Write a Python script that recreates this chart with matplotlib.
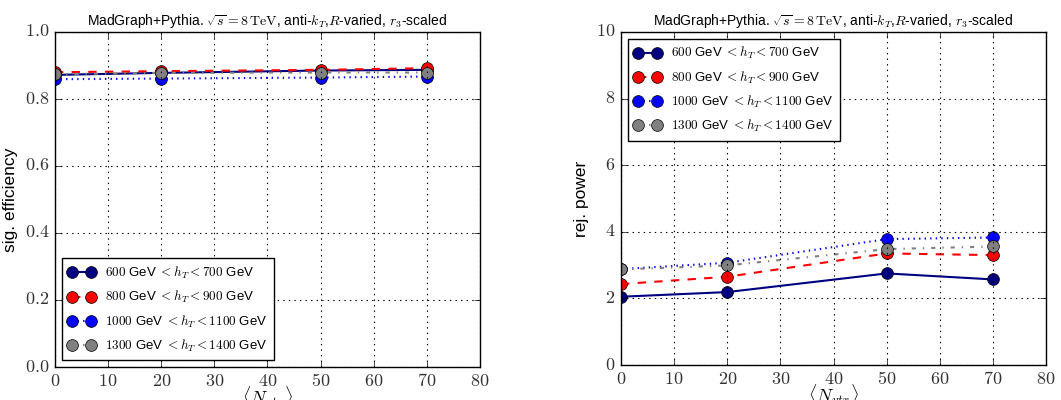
import matplotlib
matplotlib.use("Agg")
import matplotlib.pyplot as plt
from matplotlib.ticker import FuncFormatter, MultipleLocator

plt.style.use("classic")
plt.rcParams["mathtext.fontset"] = "cm"
plt.rcParams["font.family"] = ["Liberation Sans", "DejaVu Sans"]

n_vtx = [0, 20, 50, 70]
labels = [
    r"$600$ GeV $< h_T < 700$ GeV",
    r"$800$ GeV $< h_T < 900$ GeV",
    r"$1000$ GeV $< h_T < 1100$ GeV",
    r"$1300$ GeV $< h_T < 1400$ GeV",
]
colors = ["navy", "red", "blue", "gray"]
styles = ["-", "--", ":", "-."]

sig_eff = [
    [0.872, 0.878, 0.885, 0.887],
    [0.880, 0.883, 0.887, 0.892],
    [0.859, 0.861, 0.864, 0.867],
    [0.874, 0.878, 0.879, 0.879],
]
rej_power = [
    [2.05, 2.19, 2.75, 2.57],
    [2.43, 2.65, 3.35, 3.30],
    [2.88, 3.07, 3.78, 3.83],
    [2.87, 2.99, 3.48, 3.56],
]

title = r"MadGraph+Pythia. $\sqrt{s} = 8\,\mathrm{TeV}$, anti-$k_T$,$R$-varied, $r_3$-scaled"

fig = plt.figure(figsize=(10.61, 4.0), dpi=100, facecolor="white")
ax1 = fig.add_axes([0.0518, 0.0825, 0.4006, 0.8375])
ax2 = fig.add_axes([0.5853, 0.0875, 0.4006, 0.8325])

def fmt_int(v, pos):
    return r"$%d$" % round(v)

def fmt_dec(v, pos):
    return r"$%.1f$" % v

for ax, data, ylab, ymax, loc, yfmt, ystep in [
    (ax1, sig_eff, "sig. efficiency", 1.0, "lower left", fmt_dec, 0.2),
    (ax2, rej_power, "rej. power", 10, "upper left", fmt_int, 2),
]:
    for vals, lab, c, ls in zip(data, labels, colors, styles):
        ax.plot(n_vtx, vals, ls, color=c, lw=1.5, marker="o", markersize=8.5,
                markerfacecolor=c, markeredgecolor="black", label=lab)
    ax.set_xlim(0, 80)
    ax.set_ylim(0, ymax)
    ax.xaxis.set_major_locator(MultipleLocator(10))
    ax.yaxis.set_major_locator(MultipleLocator(ystep))
    ax.xaxis.set_major_formatter(FuncFormatter(fmt_int))
    ax.yaxis.set_major_formatter(FuncFormatter(yfmt))
    ax.tick_params(labelsize=13, labelcolor="#333333")
    ax.grid(True, color="black", linestyle=":", linewidth=0.8)
    ax.set_xlabel(r"$\langle N_{vtx} \rangle$", fontsize=13, labelpad=-4)
    ax.set_ylabel(ylab, fontsize=12.5)
    ax.set_title(title, fontsize=10)
    leg = ax.legend(loc=loc, numpoints=2, fontsize=9.5, fancybox=False,
                    borderpad=0.5, labelspacing=0.6, handlelength=2.0)
    leg.get_frame().set_edgecolor("black")

fig.savefig("out.png", dpi=100, facecolor="white")
